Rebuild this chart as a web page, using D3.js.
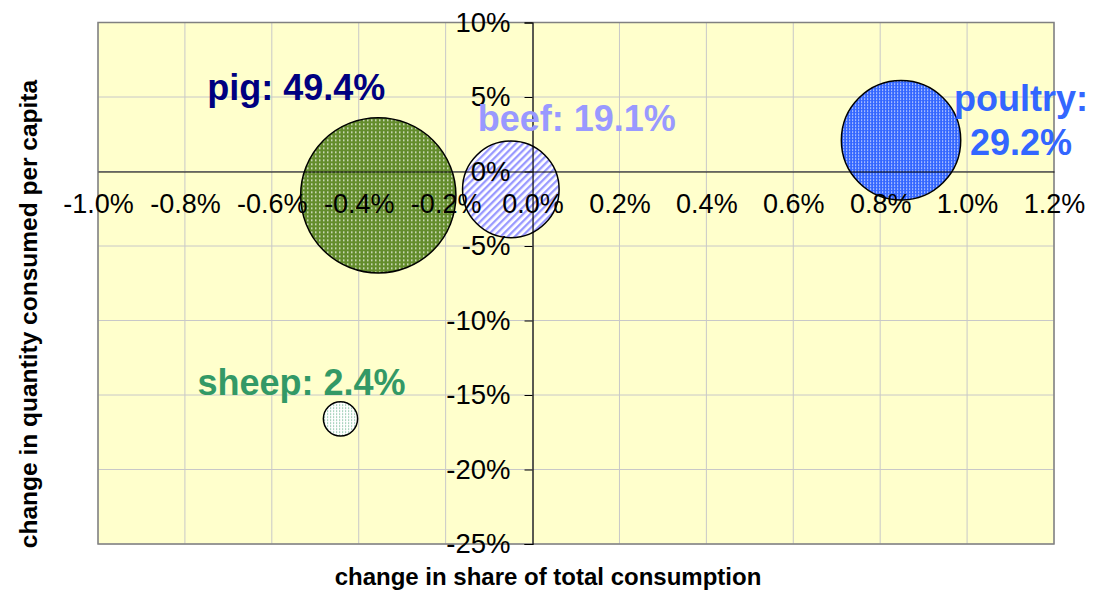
<!DOCTYPE html>
<html lang="en">
<head>
<meta charset="utf-8">
<script src="https://d3js.org/d3.v7.min.js"></script>
<style>
body { margin: 0; background: #fff; }
#chart { width: 1094px; height: 592px; }
</style>
</head>
<body>
<div id="chart"></div>
<script>
// bubble data (values in %)
var meats = ["pig", "beef", "poultry", "sheep"];
var shareChange = [-0.355, -0.05, 0.848, -0.442];   // change in share of total consumption
var qtyChange = [-1.6, -1.2, 2.1, -16.6];           // change in quantity consumed per capita
var shareOfTotal = [49.4, 19.1, 29.2, 2.4];          // bubble size
var xTickValues = [-1.0, -0.8, -0.6, -0.4, -0.2, 0.0, 0.2, 0.4, 0.6, 0.8, 1.0, 1.2];
var yTickValues = [10, 5, 0, -5, -10, -15, -20, -25];

// look
var labelColors = ["#000080", "#9999ff", "#3366ff", "#339966"];
var labelOffsets = [[-82, -95], [66, -58], [120, -29], [-39, -24]];

var margin = { top: 22.5, right: 40, bottom: 48, left: 98 },
    width = 1094 - margin.left - margin.right,
    height = 592 - margin.top - margin.bottom;

var svg = d3.select("#chart")
    .append("svg")
    .attr("width", 1094)
    .attr("height", 592)
    .style("font-family", "'Liberation Sans', Arial, sans-serif");

// excel uses a plain hyphen for negatives
function pct(d, dec) {
    return (d < 0 ? "-" : "") + Math.abs(d).toFixed(dec) + "%";
}

// fill patterns, like the excel ones
var defs = svg.append("defs");

var pPig = defs.append("pattern").attr("id", "pat-pig")
    .attr("width", 4).attr("height", 4).attr("patternUnits", "userSpaceOnUse");
pPig.append("rect").attr("width", 4).attr("height", 4).attr("fill", "#638c2c");
pPig.append("rect").attr("x", 1).attr("y", 1).attr("width", 1.5).attr("height", 1.5)
    .attr("fill", "#fff").attr("opacity", 0.85);

var pBeef = defs.append("pattern").attr("id", "pat-beef")
    .attr("width", 5).attr("height", 5).attr("patternUnits", "userSpaceOnUse")
    .attr("patternTransform", "rotate(45)");
pBeef.append("rect").attr("width", 5).attr("height", 5).attr("fill", "#fff");
pBeef.append("rect").attr("width", 2.3).attr("height", 5).attr("fill", "#9999ff");

var pPoultry = defs.append("pattern").attr("id", "pat-poultry")
    .attr("width", 3).attr("height", 3).attr("patternUnits", "userSpaceOnUse");
pPoultry.append("rect").attr("width", 3).attr("height", 3).attr("fill", "#3366ff");
pPoultry.append("rect").attr("x", 1).attr("y", 1).attr("width", 1.2).attr("height", 1.2)
    .attr("fill", "#fff").attr("opacity", 0.9);

var pSheep = defs.append("pattern").attr("id", "pat-sheep")
    .attr("width", 3).attr("height", 3).attr("patternUnits", "userSpaceOnUse");
pSheep.append("rect").attr("width", 3).attr("height", 3).attr("fill", "#fff");
pSheep.append("rect").attr("x", 1).attr("y", 1).attr("width", 1.2).attr("height", 1.2)
    .attr("fill", "#339966").attr("opacity", 0.7);

var g = svg.append("g")
    .attr("transform", "translate(" + margin.left + "," + margin.top + ")");

var x = d3.scaleLinear().domain([-1.0, 1.2]).range([0, width]);
var y = d3.scaleLinear().domain([-25, 10]).range([height, 0]);
var r = d3.scaleSqrt().domain([0, 50]).range([0, 78.1]);

// plot area
g.append("rect")
    .attr("width", width)
    .attr("height", height)
    .attr("fill", "#ffffcc");

// gridlines
g.append("g").selectAll("line")
    .data(xTickValues)
    .enter().append("line")
    .attr("x1", function(d) { return x(d); })
    .attr("x2", function(d) { return x(d); })
    .attr("y1", 0).attr("y2", height)
    .attr("stroke", "#c8c8c8").attr("stroke-width", 1);

g.append("g").selectAll("line")
    .data(yTickValues)
    .enter().append("line")
    .attr("y1", function(d) { return y(d); })
    .attr("y2", function(d) { return y(d); })
    .attr("x1", 0).attr("x2", width)
    .attr("stroke", "#c8c8c8").attr("stroke-width", 1);

g.append("rect")
    .attr("width", width)
    .attr("height", height)
    .attr("fill", "none")
    .attr("stroke", "#808080")
    .attr("stroke-width", 1.5);

// bubbles, biggest first
var idx = d3.range(meats.length).sort(function(a, b) { return shareOfTotal[b] - shareOfTotal[a]; });

g.append("g").selectAll("circle")
    .data(idx)
    .enter().append("circle")
    .attr("cx", function(i) { return x(shareChange[i]); })
    .attr("cy", function(i) { return y(qtyChange[i]); })
    .attr("r", function(i) { return r(shareOfTotal[i]); })
    .attr("fill", function(i) { return "url(#pat-" + meats[i] + ")"; })
    .attr("stroke", "#000")
    .attr("stroke-width", 1.5);

// axes crossing at 0
var xAxis = g.append("g")
    .attr("transform", "translate(0," + y(0) + ")")
    .call(d3.axisBottom(x).tickValues(xTickValues).tickSize(0).tickPadding(22)
        .tickFormat(function(d) { return pct(d, 1); }));
xAxis.select(".domain").attr("stroke", "#000").attr("stroke-width", 1.2);
xAxis.selectAll("text")
    .style("font-size", "27px")
    .style("font-family", "'Liberation Sans', Arial, sans-serif")
    .attr("fill", "#000");

var yAxis = g.append("g")
    .attr("transform", "translate(" + x(0) + ",0)")
    .call(d3.axisLeft(y).tickValues(yTickValues).tickSize(8).tickPadding(14)
        .tickFormat(function(d) { return pct(d, 0); }));
yAxis.select(".domain").attr("stroke", "#000").attr("stroke-width", 1.2);
yAxis.selectAll(".tick line").attr("stroke", "#000");
yAxis.selectAll("text")
    .style("font-size", "27.5px")
    .style("font-family", "'Liberation Sans', Arial, sans-serif")
    .attr("fill", "#000");

// bubble labels
var labels = g.append("g").selectAll("text")
    .data(d3.range(meats.length))
    .enter().append("text")
    .attr("text-anchor", "middle")
    .attr("fill", function(i) { return labelColors[i]; })
    .style("font-size", "36px")
    .style("font-weight", "bold")
    .attr("transform", function(i) {
        return "translate(" + (x(shareChange[i]) + labelOffsets[i][0]) + "," +
            (y(qtyChange[i]) + labelOffsets[i][1]) + ")";
    });

labels.each(function(i) {
    var t = d3.select(this);
    if (meats[i] === "poultry") {
        // poultry label is split on two lines
        t.append("tspan").attr("x", 0).attr("dy", 0).text(meats[i] + ":");
        t.append("tspan").attr("x", 0).attr("dy", 43.5).text(pct(shareOfTotal[i], 1));
    } else {
        t.text(meats[i] + ": " + pct(shareOfTotal[i], 1));
    }
});

// axis titles
svg.append("text")
    .attr("x", 548)
    .attr("y", 585)
    .attr("text-anchor", "middle")
    .style("font-size", "24px")
    .style("font-weight", "bold")
    .text("change in share of total consumption");

svg.append("text")
    .attr("transform", "translate(37,314) rotate(-90)")
    .attr("text-anchor", "middle")
    .style("font-size", "24.5px")
    .style("font-weight", "bold")
    .text("change in quantity consumed per capita");
</script>
</body>
</html>
